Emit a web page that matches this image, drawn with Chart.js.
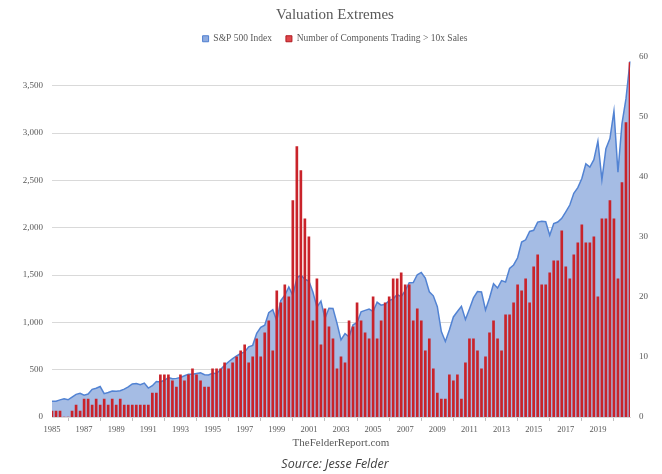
<!DOCTYPE html>
<html><head><meta charset="utf-8">
<script src="https://cdn.jsdelivr.net/npm/chart.js@4.4.1/dist/chart.umd.min.js"></script>
<style>html,body{margin:0;padding:0;background:#fff;} canvas{display:block;}</style>
</head><body>
<canvas id="c" width="662" height="474"></canvas>
<script>
// Categories: quarters 1985 Q1 .. 2021 Q1
const quarters = [];
for (let y = 1985; y <= 2021; y++) for (let q = 1; q <= 4; q++) quarters.push(y + ' Q' + q);
quarters.length = 145;

const tickYears = ['1985','1987','1989','1991','1993','1995','1997','1999','2001','2003','2005','2007','2009','2011','2013','2015','2017','2019'];
const leftTicks = [0, 500, 1000, 1500, 2000, 2500, 3000, 3500];
const rightTicks = [0, 10, 20, 30, 40, 50, 60];

const sp500 = [
  166,167,181,192,182,211,239,251,231,242,
  292,304,322,247,259,274,272,278,295,318,
  349,353,340,358,306,330,375,371,388,417,
  404,408,418,436,452,451,459,466,446,444,
  463,459,501,545,584,616,646,671,687,741,
  757,885,947,970,1102,1134,1017,1229,1286,1373,
  1283,1469,1499,1455,1437,1320,1160,1224,1041,1148,
  1147,990,815,880,848,975,996,1112,1126,1141,
  1115,1212,1181,1191,1229,1248,1295,1270,1336,1418,
  1421,1503,1527,1468,1323,1280,1166,903,798,919,
  1057,1115,1169,1031,1141,1258,1326,1321,1131,1258,
  1408,1362,1441,1426,1569,1606,1682,1848,1872,1960,
  1972,2059,2068,2063,1920,2044,2060,2099,2168,2239,
  2363,2423,2519,2674,2641,2718,2914,2507,2834,2942,
  3231,2585,3100,3363,3756
];

const components = [
  1,1,1,0,0,1,2,1,3,3,
  2,3,2,3,2,3,2,3,2,2,
  2,2,2,2,2,4,4,7,7,7,
  6,5,7,6,7,8,7,6,5,5,
  8,8,8,9,8,9,10,11,12,9,
  10,13,10,14,16,11,21,19,22,20,
  36,45,41,33,30,16,23,12,18,15,
  13,8,10,9,16,15,19,16,14,13,
  20,13,16,19,20,23,23,24,22,22,
  16,18,16,11,13,8,4,3,3,7,
  6,7,3,9,13,13,11,8,10,14,
  16,13,11,17,17,19,22,21,23,19,
  25,27,22,22,24,26,26,31,25,23,
  27,29,32,29,29,30,20,33,33,36,
  33,23,39,49,59
];

const SERIF = "'Liberation Serif', 'DejaVu Serif', serif";
const GREY = '#595959';
const withCommas = (n) => String(n).replace(/\B(?=(\d{3})+(?!\d))/g, ',');

new Chart(document.getElementById('c'), {
  data: {
    labels: quarters,
    datasets: [
      {
        type: 'line',
        label: 'S&P 500 Index',
        data: sp500,
        yAxisID: 'y',
        borderColor: '#5283d3',
        borderWidth: 1.5,
        backgroundColor: '#a5bce4',
        fill: 'origin',
        pointRadius: 0,
        tension: 0,
        order: 1
      },
      {
        type: 'bar',
        label: 'Number of Components Trading > 10x Sales',
        data: components,
        yAxisID: 'y2',
        backgroundColor: '#c9232a',
        borderWidth: 0,
        barThickness: 2,
        order: 0
      }
    ]
  },
  options: {
    responsive: false,
    animation: false,
    layout: { padding: { left: 8, right: 0, top: 0, bottom: 0 } },
    plugins: {
      tooltip: { enabled: false },
      title: {
        display: true,
        text: 'Valuation Extremes',
        color: GREY,
        font: { family: SERIF, size: 15, weight: 'normal' },
        padding: { top: 6, bottom: -4 }
      },
      legend: {
        display: true,
        position: 'top',
        labels: {
          color: GREY,
          font: { family: SERIF, size: 9.5 },
          boxWidth: 6,
          boxHeight: 6,
          padding: 14,
          generateLabels: (chart) => chart.data.datasets.map((ds, i) => ({
            text: ds.label,
            fillStyle: ds.type === 'line' ? '#8eabe0' : '#e0474c',
            strokeStyle: ds.type === 'line' ? '#4f7fd0' : '#b01a20',
            lineWidth: 1,
            fontColor: GREY,
            datasetIndex: i,
            hidden: false
          }))
        }
      },
      subtitle: {
        display: true,
        position: 'bottom',
        text: 'Source: Jesse Felder',
        color: '#404040',
        font: { family: "'Open Sans', sans-serif", size: 12.5, style: 'italic', weight: 'normal' },
        padding: { top: 4, bottom: 2 }
      }
    },
    scales: {
      x: {
        type: 'category',
        offset: false,
        grid: { drawOnChartArea: false, drawTicks: true, tickLength: 4, color: '#bfbfbf' },
        border: { display: true, color: '#d9d9d9' },
        ticks: {
          autoSkip: false,
          maxRotation: 0,
          minRotation: 0,
          padding: 4,
          color: GREY,
          font: { family: SERIF, size: 8.5 },
          callback: function (value) {
            const lab = this.getLabelForValue(value);
            const yr = lab.slice(0, 4);
            return (lab.endsWith('Q1') && tickYears.includes(yr)) ? yr : null;
          }
        },
        title: {
          display: true,
          text: 'TheFelderReport.com',
          color: GREY,
          font: { family: SERIF, size: 11 },
          padding: { top: 0, bottom: 3 }
        },
        afterFit: (s) => { s.height = 36; }
      },
      y: {
        type: 'linear',
        position: 'left',
        min: 0,
        max: 3840,
        grid: { color: '#d9d9d9', drawTicks: false, lineWidth: 1 },
        border: { display: false },
        afterBuildTicks: (s) => { s.ticks = leftTicks.map(v => ({ value: v })); },
        ticks: {
          autoSkip: false,
          padding: 9,
          color: GREY,
          font: { family: SERIF, size: 9 },
          callback: (v) => withCommas(v)
        },
        afterFit: (s) => { s.width = 44; }
      },
      y2: {
        type: 'linear',
        position: 'right',
        min: 0,
        max: 60.5,
        grid: { display: false, drawOnChartArea: false, drawTicks: false },
        border: { display: false },
        afterBuildTicks: (s) => { s.ticks = rightTicks.map(v => ({ value: v })); },
        ticks: {
          autoSkip: false,
          padding: 9,
          color: GREY,
          font: { family: SERIF, size: 9 },
          callback: (v) => String(v)
        },
        afterFit: (s) => { s.width = 32; }
      }
    }
  }
});
</script>
</body></html>
